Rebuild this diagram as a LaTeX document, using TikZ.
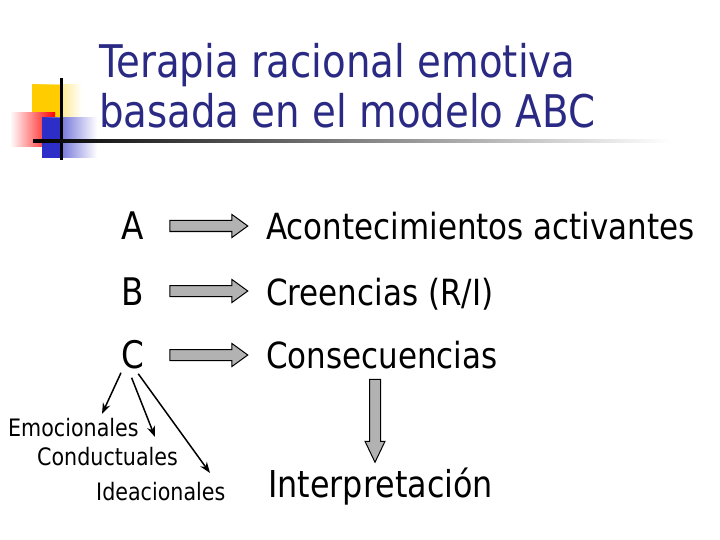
\documentclass[tikz,border=0pt]{standalone}
\usepackage{fontspec}
\setmainfont{DejaVu Sans}[FakeStretch=0.86]
\usetikzlibrary{shapes.arrows, arrows.meta}

\definecolor{titleblue}{RGB}{42,42,132}
\definecolor{arrowgray}{RGB}{178,178,178}
\definecolor{logoyellow}{RGB}{255,204,0}
\definecolor{logoblue}{RGB}{45,45,200}

\tikzset{
    letter/.style={anchor=base west, inner sep=0pt, font=\fontsize{38}{40}\selectfont},
    meaning/.style={anchor=base west, inner sep=0pt, font=\fontsize{36}{40}\selectfont},
    kind/.style={anchor=base west, inner sep=0pt, font=\fontsize{24}{26}\selectfont},
    blockarrow/.style={single arrow, draw=black, fill=arrowgray, line width=1pt,
        inner xsep=0pt, inner ysep=5pt, single arrow head extend=6pt,
        single arrow tip angle=72, minimum height=78pt},
    branch/.style={-{Stealth[length=11pt, width=8pt]}, line width=1.5pt}
}

\begin{document}
\begin{tikzpicture}[x=1pt, y=-1pt]
    \useasboundingbox (0,0) rectangle (720,540);
    % Draw the logo
    \shade[left color=logoyellow, right color=white] (32,85) rectangle (82,121);
    \fill[logoyellow] (32,85) rectangle (62,121);
    \shade[left color=white, right color=red] (10,113) rectangle (55,147);
    \shade[left color=logoblue, right color=white] (42,118) rectangle (97,158);
    \fill[logoblue] (42,118) rectangle (62,158);
    \draw[line width=3pt] (61,78) -- (61,160);
    \shade[left color=black, right color=white] (33,139.5) rectangle (670,142.5);
    % Draw the title
    \node[anchor=base west, inner sep=0pt, text=titleblue, font=\fontsize{45}{50}\selectfont]
        (title1) at (99,78) {Terapia racional emotiva};
    \node[anchor=base west, inner sep=0pt, text=titleblue, font=\fontsize{45}{50}\selectfont]
        (title2) at (99,128) {basada en el modelo ABC};
    % Draw the letters and their meanings
    \node[letter] (a) at (121,240) {A};
    \node[letter] (b) at (121,305) {B};
    \node[letter] (c) at (121,368) {C};
    \node[meaning] (acont) at (266,240) {Acontecimientos activantes};
    \node[meaning] (creen) at (266,305) {Creencias (R/I)};
    \node[meaning] (conse) at (266,368) {Consecuencias};
    \node[meaning, font=\fontsize{37}{40}\selectfont] (inter) at (268,497) {Interpretación};
    % Draw the block arrows
    \node[blockarrow] (arrA) at (205,226) {};
    \node[blockarrow] (arrB) at (205,291) {};
    \node[blockarrow] (arrC) at (205,355) {};
    \node[blockarrow, single arrow head extend=4.5pt,
        single arrow tip angle=51, minimum height=83pt, rotate=-90]
        (arrI) at (375,415) {};
    % Draw the kinds of consequences
    \node[kind] (emoc) at (8,436) {Emocionales};
    \node[kind] (cond) at (37,465) {Conductuales};
    \node[kind] (idea) at (96,500) {Ideacionales};
    \coordinate (emocend) at (102,414);
    \coordinate (condend) at (155,437);
    \coordinate (ideaend) at (210,473);
    \draw[branch] (c.south west) ++(0,4) -- (emocend);
    \draw[branch] (c.south) ++(-1,9) -- (condend);
    \draw[branch] (c.south east) ++(-6,5) -- (ideaend);
\end{tikzpicture}
\end{document}
